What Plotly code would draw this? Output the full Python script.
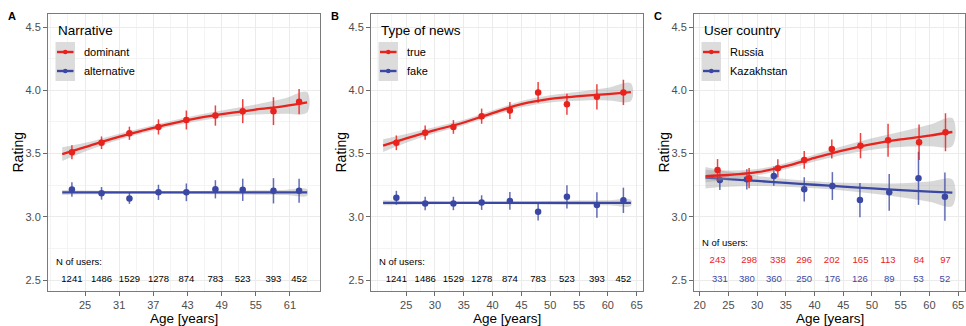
import plotly.graph_objects as go

# ---------------- data ----------------
N_USERS = [1241, 1486, 1529, 1278, 874, 783, 523, 393, 452]
N_RUSSIA = [243, 298, 338, 296, 202, 165, 113, 84, 97]
N_KAZAKH = [331, 380, 360, 250, 176, 126, 89, 53, 52]

# Panel A (Narrative)
ages_A = [22.7, 27.9, 32.8, 37.9, 42.8, 47.9, 52.7, 58.1, 62.6]
dominant_y = [3.51, 3.585, 3.66, 3.71, 3.765, 3.80, 3.835, 3.835, 3.91]
dominant_err = [0.055, 0.05, 0.052, 0.06, 0.075, 0.08, 0.095, 0.11, 0.10]
alternative_y = [3.215, 3.185, 3.145, 3.193, 3.193, 3.217, 3.213, 3.205, 3.205]
alternative_err = [0.057, 0.05, 0.043, 0.06, 0.07, 0.072, 0.088, 0.10, 0.095]

fit_ages = [21, 25, 30, 35, 40, 45, 50, 55, 60, 64]
dominant_fit = [3.495, 3.55, 3.62, 3.68, 3.735, 3.782, 3.818, 3.848, 3.875, 3.905]
dominant_se = [0.055, 0.035, 0.025, 0.022, 0.022, 0.025, 0.03, 0.04, 0.06, 0.08]
alternative_fit = [3.192, 3.192, 3.192, 3.192, 3.192, 3.192, 3.192, 3.192, 3.192, 3.192]
alternative_se = [0.02, 0.015, 0.012, 0.01, 0.01, 0.012, 0.015, 0.018, 0.02, 0.025]

# Panel B (Type of news)
ages_B = [23.3, 28.3, 33.2, 38.1, 43.0, 47.9, 52.9, 58.1, 62.7]
true_y = [3.585, 3.665, 3.71, 3.795, 3.84, 3.983, 3.89, 3.948, 3.983]
true_err = [0.058, 0.057, 0.054, 0.06, 0.067, 0.082, 0.083, 0.10, 0.10]
fake_y = [3.15, 3.105, 3.105, 3.112, 3.125, 3.04, 3.158, 3.093, 3.13]
fake_err = [0.055, 0.053, 0.053, 0.058, 0.07, 0.07, 0.092, 0.10, 0.10]
true_fit = [3.562, 3.62, 3.685, 3.745, 3.82, 3.89, 3.932, 3.953, 3.97, 3.985]
true_se = [0.05, 0.035, 0.025, 0.022, 0.022, 0.025, 0.028, 0.035, 0.05, 0.07]
fake_fit = [3.11, 3.11, 3.11, 3.11, 3.11, 3.11, 3.11, 3.11, 3.11, 3.11]
fake_se = [0.02, 0.015, 0.012, 0.01, 0.01, 0.012, 0.015, 0.018, 0.02, 0.025]

# Panel C (User country)
ages_C_ru = [23.1, 28.6, 33.6, 38.2, 43.0, 48.0, 52.8, 58.2, 62.8]
ages_C_kz = [23.5, 28.2, 32.9, 38.2, 43.1, 47.9, 53.0, 58.1, 62.7]
russia_y = [3.37, 3.305, 3.383, 3.449, 3.536, 3.562, 3.605, 3.589, 3.668]
russia_err = [0.086, 0.08, 0.072, 0.07, 0.075, 0.10, 0.13, 0.14, 0.15]
kazakh_y = [3.291, 3.296, 3.322, 3.217, 3.243, 3.132, 3.193, 3.304, 3.159]
kazakh_err = [0.08, 0.08, 0.076, 0.096, 0.11, 0.135, 0.146, 0.21, 0.19]
russia_fit = [3.322, 3.33, 3.352, 3.40, 3.465, 3.525, 3.575, 3.612, 3.642, 3.67]
russia_se = [0.05, 0.035, 0.025, 0.025, 0.028, 0.035, 0.045, 0.06, 0.085, 0.11]
kazakh_fit = [3.309, 3.297, 3.283, 3.268, 3.253, 3.238, 3.224, 3.21, 3.199, 3.19]
kazakh_se = [0.085, 0.06, 0.04, 0.03, 0.028, 0.03, 0.04, 0.055, 0.08, 0.105]

X_TICKS_A = [25, 31, 37, 43, 49, 55, 61]
X_TICKS_B = [25, 30, 35, 40, 45, 50, 55, 60, 65]
X_TICKS_C = [20, 25, 30, 35, 40, 45, 50, 55, 60, 65]
Y_TICKS = [2.5, 3.0, 3.5, 4.0, 4.5]

# ---------------- styling / layout ----------------
W, H = 966, 326
FONT = "Liberation Sans, Arial, Helvetica, sans-serif"
RED = "#e8221d"
BLUE = "#3b48a3"
RED_ERR = "rgba(232,34,29,0.85)"
BLUE_ERR = "rgba(59,72,163,0.8)"
BAND = "rgba(153,153,153,0.38)"

PANELS = [(48, 320), (371, 643), (694, 965)]
TOP, BOT = 14, 291
X_RANGES = [[18.5, 66.27], [18.9, 66.1], [19.0, 66.2]]
Y_RANGE = [2.413, 4.603]


def px(x):
    return x / W


def py(y):
    return 1 - y / H


fig = go.Figure()


def add_series(i, ages, y, err, fit, se, color, errcolor):
    xa = "x" if i == 0 else f"x{i+1}"
    ya = "y" if i == 0 else f"y{i+1}"
    upper = [f + s for f, s in zip(fit, se)]
    lower = [f - s for f, s in zip(fit, se)]
    fig.add_trace(go.Scatter(
        x=fit_ages + fit_ages[::-1], y=upper + lower[::-1],
        fill="toself", fillcolor=BAND, line=dict(width=0, shape="spline"),
        mode="lines", hoverinfo="skip", showlegend=False, xaxis=xa, yaxis=ya))
    fig.add_trace(go.Scatter(
        x=fit_ages, y=fit, mode="lines",
        line=dict(color=color, width=2.3, shape="spline"),
        showlegend=False, xaxis=xa, yaxis=ya))
    fig.add_trace(go.Scatter(
        x=ages, y=y, mode="markers",
        marker=dict(color=color, size=6.5),
        error_y=dict(type="data", array=err, visible=True, color=errcolor,
                     thickness=1.5, width=0),
        showlegend=False, xaxis=xa, yaxis=ya))


def add_counts(i, ages, counts, yval, color):
    xa = "x" if i == 0 else f"x{i+1}"
    ya = "y" if i == 0 else f"y{i+1}"
    fig.add_trace(go.Scatter(
        x=ages, y=[yval] * len(ages), mode="text",
        text=[str(c) for c in counts],
        textfont=dict(family=FONT, size=9.5, color=color),
        textposition="middle center", showlegend=False, hoverinfo="skip",
        xaxis=xa, yaxis=ya))


LEGENDS = [
    ("Narrative", ["dominant", "alternative"], 92),
    ("Type of news", ["true", "fake"], 94),
    ("User country", ["Russia", "Kazakhstan"], 106),
]

add_series(0, ages_A, dominant_y, dominant_err, dominant_fit, dominant_se, RED, RED_ERR)
add_series(0, ages_A, alternative_y, alternative_err, alternative_fit, alternative_se, BLUE, BLUE_ERR)
add_counts(0, ages_A, N_USERS, 2.5, "black")

add_series(1, ages_B, true_y, true_err, true_fit, true_se, RED, RED_ERR)
add_series(1, ages_B, fake_y, fake_err, fake_fit, fake_se, BLUE, BLUE_ERR)
add_counts(1, ages_B, N_USERS, 2.5, "black")

add_series(2, ages_C_kz, kazakh_y, kazakh_err, kazakh_fit, kazakh_se, BLUE, BLUE_ERR)
add_series(2, ages_C_ru, russia_y, russia_err, russia_fit, russia_se, RED, RED_ERR)
add_counts(2, ages_C_ru, N_RUSSIA, 2.65, RED)
add_counts(2, ages_C_kz, N_KAZAKH, 2.5, BLUE)

shapes = []
annotations = []

for i, ((x0, x1), (title, labels, bw)) in enumerate(zip(PANELS, LEGENDS)):
    shapes.append(dict(type="rect", xref="paper", yref="paper", layer="below",
                       x0=px(x0 + 1), x1=px(x0 + bw), y0=py(87), y1=py(TOP + 1),
                       fillcolor="white", line=dict(width=0)))
    shapes.append(dict(type="rect", xref="paper", yref="paper", layer="above",
                       x0=px(x0 + 7.5), x1=px(x0 + 27), y0=py(81), y1=py(42),
                       fillcolor="#dcdcdc", line=dict(width=0)))
    for k, (ky, col) in enumerate([(52, RED), (71, BLUE)]):
        shapes.append(dict(type="line", xref="paper", yref="paper", layer="above",
                           x0=px(x0 + 9), x1=px(x0 + 25.5), y0=py(ky), y1=py(ky),
                           line=dict(color=col, width=2.4)))
        shapes.append(dict(type="circle", xref="paper", yref="paper", layer="above",
                           x0=px(x0 + 15), x1=px(x0 + 19.6), y0=py(ky + 2.3), y1=py(ky - 2.3),
                           fillcolor=col, line=dict(width=0)))
        annotations.append(dict(text=labels[k], xref="paper", yref="paper",
                                x=px(x0 + 33.5), y=py(ky), xanchor="left", yanchor="middle",
                                showarrow=False, font=dict(family=FONT, size=11, color="black")))
    annotations.append(dict(text=title, xref="paper", yref="paper",
                            x=px(x0 + 7.5), y=py(30), xanchor="left", yanchor="middle",
                            showarrow=False, font=dict(family=FONT, size=13.5, color="black")))
    annotations.append(dict(text="Rating", xref="paper", yref="paper",
                            x=px(x0 - 31), y=py((TOP + BOT) / 2), textangle=-90,
                            xanchor="center", yanchor="middle", showarrow=False,
                            font=dict(family=FONT, size=14, color="black")))
    annotations.append(dict(text="Age [years]", xref="paper", yref="paper",
                            x=px((x0 + x1) / 2), y=py(318), xanchor="center", yanchor="middle",
                            showarrow=False, font=dict(family=FONT, size=13.5, color="black")))

for letter, lx in zip(["A", "B", "C"], [12, 335, 658]):
    annotations.append(dict(text=f"<b>{letter}</b>", xref="paper", yref="paper",
                            x=px(lx), y=py(15.5), xanchor="center", yanchor="middle",
                            showarrow=False, font=dict(family=FONT, size=11, color="black")))

NLAB = [(0, 19.55, 2.65), (1, 20.0, 2.65), (2, 20.1, 2.80)]
for i, xv, yv in NLAB:
    annotations.append(dict(text="N of users:", xref="x" if i == 0 else f"x{i+1}",
                            yref="y" if i == 0 else f"y{i+1}", x=xv, y=yv,
                            xanchor="left", yanchor="middle", showarrow=False,
                            font=dict(family=FONT, size=9.5, color="black")))

layout = dict(
    width=W, height=H, autosize=False,
    margin=dict(l=0, r=0, t=0, b=0),
    paper_bgcolor="white", plot_bgcolor="white",
    showlegend=False, shapes=shapes, annotations=annotations,
    font=dict(family=FONT),
)

xticks_all = [X_TICKS_A, X_TICKS_B, X_TICKS_C]
minor_steps = [3, 2.5, 2.5]
for i, (x0, x1) in enumerate(PANELS):
    xk = "xaxis" if i == 0 else f"xaxis{i+1}"
    yk = "yaxis" if i == 0 else f"yaxis{i+1}"
    ya = "y" if i == 0 else f"y{i+1}"
    xa = "x" if i == 0 else f"x{i+1}"
    layout[xk] = dict(
        domain=[px(x0), px(x1)], anchor=ya, range=X_RANGES[i],
        tickmode="array", tickvals=xticks_all[i],
        ticktext=[str(t) for t in xticks_all[i]],
        showgrid=True, gridcolor="#ebebeb", gridwidth=1.1,
        minor=dict(showgrid=True, gridcolor="#f4f4f4", gridwidth=0.6,
                   tickmode="linear", tick0=xticks_all[i][0], dtick=minor_steps[i], ticklen=0),
        showline=True, mirror=True, linecolor="#7a7a7a", linewidth=1,
        ticks="outside", ticklen=3.5, tickcolor="#6a6a6a", tickwidth=1,
        tickfont=dict(family=FONT, size=11, color="#4d4d4d"),
        zeroline=False, fixedrange=True,
    )
    layout[yk] = dict(
        domain=[py(BOT), py(TOP)], anchor=xa, range=Y_RANGE,
        tickmode="array", tickvals=Y_TICKS, ticktext=[f"{t:.1f}" for t in Y_TICKS],
        showgrid=True, gridcolor="#ebebeb", gridwidth=1.1,
        minor=dict(showgrid=True, gridcolor="#f4f4f4", gridwidth=0.6,
                   tickmode="linear", tick0=2.5, dtick=0.25, ticklen=0),
        showline=True, mirror=True, linecolor="#7a7a7a", linewidth=1,
        ticks="outside", ticklen=4, tickcolor="#6a6a6a", tickwidth=1,
        tickfont=dict(family=FONT, size=11, color="#4d4d4d"),
        zeroline=False, fixedrange=True,
    )

fig.update_layout(**layout)
fig.write_html("out.html", config={"displayModeBar": False})
